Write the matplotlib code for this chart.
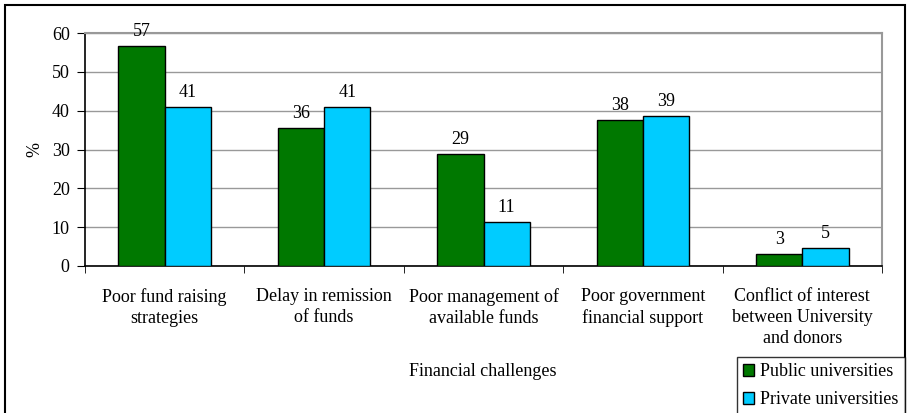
import numpy as np
import matplotlib
matplotlib.use("Agg")
import matplotlib.pyplot as plt
from matplotlib.patches import Rectangle

plt.rcParams['font.family'] = ['Liberation Serif', 'DejaVu Serif']

# data
categories = ["Poor fund raising\nstrategies",
              "Delay in remission\nof funds",
              "Poor management of\navailable funds",
              "Poor government\nfinancial support",
              "Conflict of interest\nbetween University\nand donors"]
public = [56.7, 35.6, 28.9, 37.6, 3.0]
private = [40.9, 41.0, 11.3, 38.6, 4.6]
series_names = ["Public universities", "Private universities"]

W, H = 907, 413
FS = 13
fig = plt.figure(figsize=(W / 100, H / 100), dpi=100)
ax = fig.add_axes([85 / W, 1 - 266 / H, (882 - 85) / W, (266 - 33) / H])

x = np.arange(len(categories))
bw = 0.29
b1 = ax.bar(x - bw / 2, public, bw, color='#007800', edgecolor='black', linewidth=1, label=series_names[0], zorder=3)
b2 = ax.bar(x + bw / 2, private, bw, color='#00CCFF', edgecolor='black', linewidth=1, label=series_names[1], zorder=3)

for bars, vals in [(b1, public), (b2, private)]:
    for r, v in zip(bars, vals):
        ax.text(r.get_x() + r.get_width() / 2, v + 1.6, f"{v:.0f}", ha='center', va='bottom', fontsize=FS)

ax.set_xlim(-0.5, len(categories) - 0.5)
ax.set_ylim(0, 60)
ax.set_yticks(range(0, 61, 10))
ax.yaxis.grid(True, color='#999999', linewidth=1, zorder=0)
ax.tick_params(axis='y', labelsize=FS, length=6, direction='out', color='black', pad=5)

# category labels centered, ticks on boundaries
ax.set_xticks(x)
ax.set_xticklabels(categories, fontsize=FS, linespacing=1.3)
ax.tick_params(axis='x', length=0, pad=16)
ax.set_xticks(np.arange(-0.5, len(categories)), minor=True)
ax.tick_params(axis='x', which='minor', length=5, direction='out', color='black')

ax.spines['top'].set_color('#999999')
ax.spines['right'].set_color('#999999')
ax.spines['top'].set_linewidth(1.5)
ax.spines['right'].set_linewidth(1.5)
ax.spines['left'].set_linewidth(1.2)
ax.spines['bottom'].set_linewidth(1.2)

ax.set_ylabel('%', fontsize=FS, labelpad=6)
fig.text(483 / W, 1 - 371 / H, "Financial challenges", ha='center', va='center', fontsize=FS)

leg = fig.legend(loc='upper left', bbox_to_anchor=(737 / W, 1 - 357 / H), fontsize=FS,
                 frameon=True, fancybox=False, edgecolor='black', handlelength=0.6, handleheight=0.6,
                 handletextpad=0.35, borderpad=0.35, labelspacing=0.6, borderaxespad=0)
leg.get_frame().set_linewidth(1)

# outer chart frame
fig.patches.append(Rectangle((5 / W, -0.05), (905 - 5) / W, 1.05 - 5 / H, transform=fig.transFigure,
                             fill=False, edgecolor='black', linewidth=1.5))

fig.savefig("out.png", dpi=100)
